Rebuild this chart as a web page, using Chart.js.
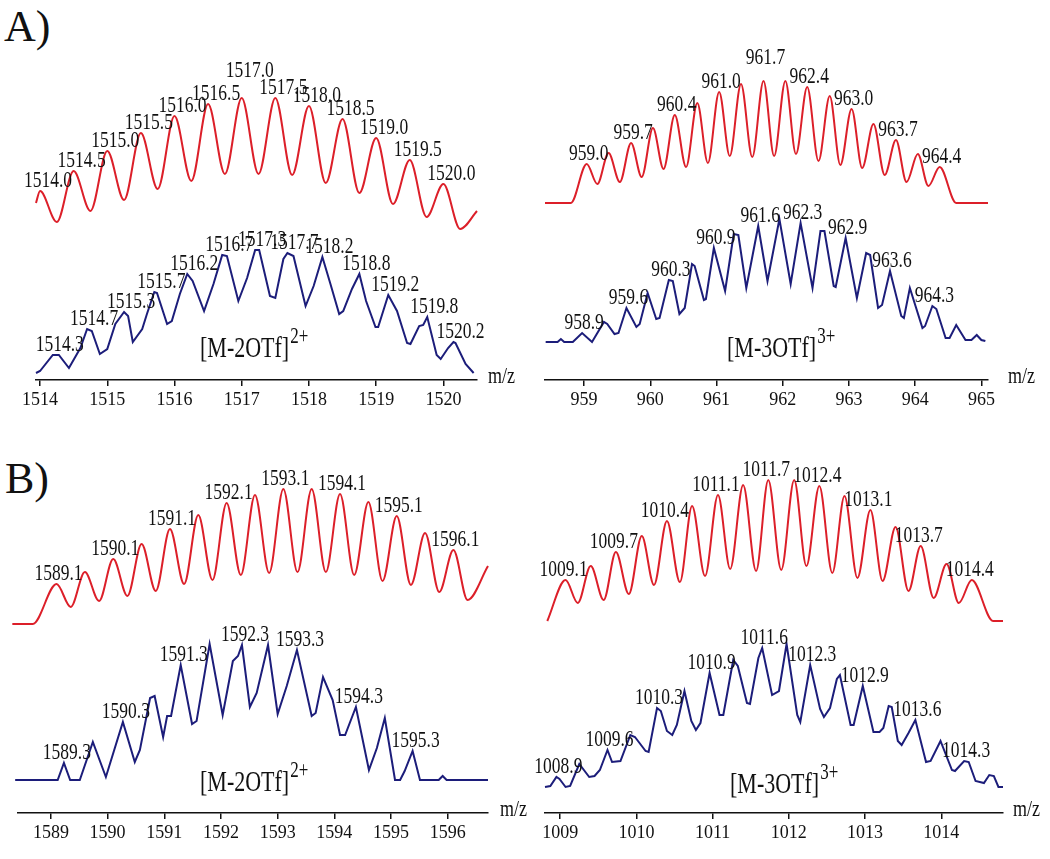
<!DOCTYPE html>
<html>
<head>
<meta charset="utf-8">
<script src="https://cdn.jsdelivr.net/npm/chart.js@4.4.1/dist/chart.umd.min.js"></script>
<style>
    html, body { margin: 0; padding: 0; background: #fff; }
    body { width: 1050px; height: 859px; position: relative; overflow: hidden;
           font-family: 'Liberation Serif', 'Times New Roman', serif; color: #111; }
    canvas { position: absolute; }
    .tag { position: absolute; font-size: 44px; line-height: 1; }
    .ion { position: absolute; font-size: 22px; line-height: 1; white-space: nowrap;
           transform: scaleY(1.3); transform-origin: 0 100%; }
    .ion sup { font-size: 17px; position: relative; top: -11px; vertical-align: baseline; margin-left: 1px; }
</style>
</head>
<body>
<div class="tag" style="left:4px;top:5px">A)</div>
<div class="tag" style="left:5px;top:457px">B)</div>

<canvas id="aLeft"  width="525" height="390" style="left:0;top:40px"></canvas>
<canvas id="aRight" width="525" height="390" style="left:525px;top:40px"></canvas>
<canvas id="bLeft"  width="535" height="414" style="left:0;top:445px"></canvas>
<canvas id="bRight" width="515" height="414" style="left:535px;top:445px"></canvas>

<div class="ion" style="left:200px;top:340px">[M-2OTf]<sup>2+</sup></div>
<div class="ion" style="left:727px;top:340px">[M-3OTf]<sup>3+</sup></div>
<div class="ion" style="left:200px;top:774px">[M-2OTf]<sup>2+</sup></div>
<div class="ion" style="left:730px;top:776px">[M-3OTf]<sup>3+</sup></div>

<script>
// ── Data (m/z, intensity above the axis) ─────────────────────────

// A) left : [M-2OTf]2+
const aLeftTicks    = [1514, 1515, 1516, 1517, 1518, 1519, 1520];
const aLeftCalcMz   = [1513.94, 1514.0, 1514.25, 1514.5, 1514.75, 1515.0, 1515.25, 1515.5, 1515.75,
                       1516.0, 1516.25, 1516.5, 1516.75, 1517.0, 1517.25, 1517.5, 1517.75, 1518.0,
                       1518.25, 1518.5, 1518.75, 1519.0, 1519.25, 1519.5, 1519.75, 1520.0, 1520.25, 1520.5];
const aLeftCalcInt  = [177, 189, 158, 209, 169, 229, 180, 247, 191, 264, 199, 276, 206, 282, 206,
                       282, 205, 274, 197, 261, 187, 242, 176, 220, 163, 196, 151, 169];
const aLeftCalcPeaks = [1514.0, 1514.5, 1515.0, 1515.5, 1516.0, 1516.5, 1517.0, 1517.5, 1518.0,
                        1518.5, 1519.0, 1519.5, 1520.0];
const aLeftExpMz    = [1513.94, 1514.00, 1514.19, 1514.28, 1514.43, 1514.60, 1514.70, 1514.77, 1514.89,
                       1515.00, 1515.12, 1515.25, 1515.31, 1515.38, 1515.52, 1515.59, 1515.70, 1515.74,
                       1515.89, 1515.96, 1516.08, 1516.19, 1516.27, 1516.44, 1516.58, 1516.71, 1516.78,
                       1516.95, 1517.08, 1517.20, 1517.26, 1517.42, 1517.50, 1517.62, 1517.68, 1517.77,
                       1517.95, 1518.07, 1518.20, 1518.32, 1518.45, 1518.51, 1518.64, 1518.75, 1518.85,
                       1518.99, 1519.03, 1519.18, 1519.31, 1519.46, 1519.51, 1519.64, 1519.70, 1519.76,
                       1519.90, 1519.96, 1520.07, 1520.15, 1520.18, 1520.33, 1520.45];
const aLeftExpInt   = [7, 9, 25, 25, 12, 32, 51, 49, 26, 31, 56, 68, 64, 38, 51, 66, 88, 87, 56, 59, 86,
                       106, 99, 69, 96, 125, 124, 79, 102, 130, 130, 84, 82, 121, 127, 124, 74, 94, 123,
                       96, 66, 69, 91, 106, 79, 53, 53, 85, 69, 37, 36, 54, 55, 63, 25, 21, 32, 38, 37, 16, 7];
const aLeftExpPeaks = [1514.3, 1514.7, 1515.3, 1515.7, 1516.2, 1516.7, 1517.3, 1517.7, 1518.2,
                       1518.8, 1519.2, 1519.8, 1520.2];

// A) right : [M-3OTf]3+
const aRightTicks   = [959, 960, 961, 962, 963, 964, 965];
const aRightCalcMz  = [958.41, 958.47, 958.80, 959.04, 959.20, 959.37, 959.54, 959.71, 959.87, 960.04,
                       960.20, 960.37, 960.54, 960.71, 960.87, 961.04, 961.20, 961.37, 961.54, 961.71,
                       961.87, 962.04, 962.20, 962.37, 962.54, 962.71, 962.87, 963.04, 963.20, 963.37,
                       963.54, 963.71, 963.87, 964.04, 964.20, 964.37, 964.62, 965.10];
const aRightCalcInt = [177, 177, 177, 216, 196, 227, 198, 237, 203, 252, 211, 265, 213, 277, 217, 288,
                       224, 296, 223, 299, 224, 299, 226, 293, 219, 284, 215, 271, 212, 256, 205, 240,
                       198, 226, 194, 213, 177, 177];
const aRightCalcPeaks = [959.0, 959.7, 960.4, 961.0, 961.7, 962.4, 963.0, 963.7, 964.4];
const aRightExpMz   = [958.42, 958.60, 958.65, 958.70, 958.83, 958.97, 959.12, 959.30, 959.35, 959.46,
                       959.52, 959.64, 959.79, 959.84, 959.96, 960.09, 960.14, 960.28, 960.34, 960.44,
                       960.52, 960.63, 960.67, 960.81, 960.84, 960.96, 961.13, 961.26, 961.33, 961.45,
                       961.63, 961.77, 961.95, 962.12, 962.27, 962.45, 962.57, 962.63, 962.77, 962.80,
                       962.95, 963.12, 963.26, 963.32, 963.44, 963.50, 963.62, 963.79, 963.83, 963.92,
                       964.11, 964.15, 964.26, 964.32, 964.46, 964.52, 964.62, 964.76, 964.85, 964.93,
                       965.00, 965.06];
const aRightExpInt  = [38, 38, 41, 38, 38, 47, 38, 58, 56, 46, 47, 72, 53, 56, 87, 61, 62, 100, 99, 66,
                       72, 116, 114, 80, 81, 132, 89, 146, 145, 92, 154, 99, 161, 96, 157, 92, 149, 149,
                       94, 93, 142, 82, 127, 125, 72, 75, 109, 64, 62, 92, 52, 54, 74, 71, 42, 42, 55,
                       40, 40, 45, 40, 39];
const aRightExpPeaks = [958.9, 959.6, 960.3, 960.9, 961.6, 962.3, 962.9, 963.6, 964.3];

// B) left : [M-2OTf]2+
const bLeftTicks    = [1589, 1590, 1591, 1592, 1593, 1594, 1595, 1596];
const bLeftCalcMz   = [1588.32, 1588.68, 1589.1, 1589.35, 1589.6, 1589.85, 1590.1, 1590.35, 1590.6,
                       1590.85, 1591.1, 1591.35, 1591.6, 1591.85, 1592.1, 1592.35, 1592.6, 1592.85,
                       1593.1, 1593.35, 1593.6, 1593.85, 1594.1, 1594.35, 1594.6, 1594.85, 1595.1,
                       1595.35, 1595.6, 1595.85, 1596.1, 1596.35, 1596.71];
const bLeftCalcInt  = [189, 189, 229, 206, 241, 212, 254, 217, 269, 222, 284, 229, 298, 233, 310, 238,
                       318, 240, 324, 241, 324, 241, 319, 238, 311, 232, 297, 228, 280, 221, 263, 213, 247];
const bLeftCalcPeaks = [1589.1, 1590.1, 1591.1, 1592.1, 1593.1, 1594.1, 1595.1, 1596.1];
const bLeftExpMz    = [1588.37, 1589.12, 1589.23, 1589.34, 1589.51, 1589.74, 1589.97, 1590.27, 1590.48,
                       1590.57, 1590.75, 1590.83, 1590.98, 1591.05, 1591.12, 1591.29, 1591.49, 1591.57,
                       1591.80, 1592.03, 1592.21, 1592.30, 1592.37, 1592.51, 1592.63, 1592.83, 1593.00,
                       1593.16, 1593.34, 1593.60, 1593.67, 1593.80, 1593.97, 1594.10, 1594.19, 1594.38,
                       1594.61, 1594.75, 1594.89, 1595.07, 1595.16, 1595.24, 1595.38, 1595.51, 1595.84,
                       1595.91, 1595.98, 1596.71];
const bLeftExpInt   = [33, 33, 50, 33, 33, 71, 36, 91, 51, 63, 115, 117, 76, 97, 97, 148, 89, 92, 169,
                       98, 152, 157, 168, 106, 120, 168, 99, 127, 163, 97, 100, 136, 113, 78, 78, 106,
                       43, 65, 95, 33, 33, 42, 62, 33, 33, 37, 33, 33];
const bLeftExpPeaks = [1589.3, 1590.3, 1591.3, 1592.3, 1593.3, 1594.3, 1595.3];

// B) right : [M-3OTf]3+
const bRightTicks   = [1009, 1010, 1011, 1012, 1013, 1014];
const bRightCalcMz  = [1008.83, 1009.07, 1009.23, 1009.40, 1009.57, 1009.73, 1009.90, 1010.07, 1010.23,
                       1010.40, 1010.57, 1010.73, 1010.90, 1011.07, 1011.23, 1011.40, 1011.57, 1011.73,
                       1011.90, 1012.07, 1012.23, 1012.40, 1012.57, 1012.73, 1012.90, 1013.07, 1013.23,
                       1013.40, 1013.57, 1013.73, 1013.90, 1014.07, 1014.23, 1014.40, 1014.68, 1014.81];
const bRightCalcInt = [192, 233, 210, 247, 213, 261, 219, 277, 228, 292, 231, 307, 237, 318, 244, 328,
                       242, 333, 243, 333, 247, 327, 240, 317, 235, 303, 232, 286, 222, 267, 215, 249,
                       210, 233, 192, 192];
const bRightCalcPeaks = [1009.1, 1009.7, 1010.4, 1011.1, 1011.7, 1012.4, 1013.1, 1013.7, 1014.4];
const bRightExpMz   = [1008.80, 1008.87, 1008.95, 1008.99, 1009.07, 1009.13, 1009.25, 1009.38, 1009.45,
                       1009.52, 1009.62, 1009.68, 1009.79, 1009.92, 1009.98, 1010.12, 1010.16, 1010.27,
                       1010.32, 1010.40, 1010.47, 1010.53, 1010.63, 1010.72, 1010.78, 1010.84, 1010.96,
                       1011.09, 1011.14, 1011.27, 1011.33, 1011.45, 1011.49, 1011.60, 1011.65, 1011.78,
                       1011.87, 1011.97, 1012.11, 1012.15, 1012.28, 1012.41, 1012.46, 1012.54, 1012.63,
                       1012.67, 1012.81, 1012.85, 1012.97, 1013.11, 1013.19, 1013.24, 1013.31, 1013.35,
                       1013.43, 1013.48, 1013.57, 1013.66, 1013.80, 1013.86, 1013.99, 1014.14, 1014.18,
                       1014.30, 1014.36, 1014.45, 1014.56, 1014.63, 1014.69, 1014.75, 1014.81];
const bRightExpInt  = [26, 27, 36, 34, 26, 27, 49, 36, 37, 43, 63, 51, 52, 78, 76, 62, 61, 105, 102, 82,
                       78, 88, 122, 92, 83, 90, 140, 98, 98, 153, 147, 110, 109, 155, 165, 118, 122, 169,
                       98, 91, 148, 104, 96, 105, 134, 138, 88, 88, 127, 81, 81, 85, 107, 106, 72, 68, 80,
                       93, 51, 52, 72, 43, 42, 52, 51, 32, 30, 38, 37, 26, 26];
const bRightExpPeaks = [1008.9, 1009.6, 1010.3, 1010.9, 1011.6, 1012.3, 1012.9, 1013.6, 1014.3];

(function () {
    'use strict';

    // ── Shared defaults ──────────────────────────────────────────
    const FONT_FAMILY = "'Liberation Serif', 'Times New Roman', serif";
    const INK         = '#111111';
    const CALC_RED    = '#dc1f29';
    const EXP_NAVY    = '#1c1d7a';
    const TALL        = 1.3;   // the printed figure has tall, narrow lettering

    Chart.defaults.font.family = FONT_FAMILY;
    Chart.defaults.color       = INK;

    const zip = (xs, ys) => xs.map((x, i) => ({ x, y: ys[i] }));

    function tallText(ctx, text, x, y) {
        ctx.save();
        ctx.translate(x, y);
        ctx.scale(1, TALL);
        ctx.fillText(text, 0, 0);
        ctx.restore();
    }

    // ── Peak labels + the m/z axis caption ───────────────────────
    const peakLabelPlugin = {
        id: 'peakLabels',
        afterDatasetsDraw(chart, args, opts) {
            const { ctx, chartArea, scales: { x, y } } = chart;
            ctx.save();
            ctx.fillStyle    = INK;
            ctx.font         = '17.5px ' + FONT_FAMILY;
            ctx.textAlign    = 'center';
            ctx.textBaseline = 'alphabetic';

            chart.data.datasets.forEach(ds => {
                (ds.peakLabels || []).forEach(mz => {
                    // tallest data point close to the labelled m/z
                    let top = null;
                    ds.data.forEach(p => {
                        if (Math.abs(p.x - mz) <= 0.121 && (!top || p.y > top.y)) top = p;
                    });
                    if (!top) return;
                    const text = mz.toFixed(1);
                    const lift = (opts.lift && opts.lift[text]) || 0;
                    tallText(ctx, text,
                        x.getPixelForValue(top.x) + (ds.labelDx || 0),
                        y.getPixelForValue(top.y) - 4 - lift);
                });
            });

            ctx.textAlign = 'left';
            ctx.font      = '18px ' + FONT_FAMILY;
            tallText(ctx, 'm/z', chartArea.right + opts.mzGap, chartArea.bottom + 3);
            ctx.restore();
        }
    };

    // ── One panel = calculated (red) over experimental (navy) ────
    function buildPanel(id, p) {
        const el = document.getElementById(id);
        if (!el) return;

        new Chart(el, {
            type: 'line',
            data: {
                datasets: [{
                    label: 'calculated',
                    data: zip(p.calcMz, p.calcInt),
                    peakLabels: p.calcPeaks,
                    labelDx: p.calcDx,
                    borderColor: CALC_RED,
                    borderWidth: 2,
                    pointRadius: 0,
                    cubicInterpolationMode: 'monotone',
                    clip: false,
                    fill: false
                }, {
                    label: 'experimental',
                    data: zip(p.expMz, p.expInt),
                    peakLabels: p.expPeaks,
                    labelDx: p.expDx,
                    borderColor: EXP_NAVY,
                    borderWidth: 2,
                    pointRadius: 0,
                    tension: 0,
                    clip: false,
                    fill: false
                }]
            },
            options: {
                responsive: false,
                animation: false,
                parsing: false,
                layout: { padding: p.padding },
                plugins: {
                    legend:  { display: false },
                    tooltip: { enabled: false },
                    peakLabels: { lift: p.lift, mzGap: p.mzGap }
                },
                scales: {
                    x: {
                        type: 'linear',
                        min: p.xMin,
                        max: p.xMax,
                        afterBuildTicks: s => { s.ticks = p.ticks.map(v => ({ value: v })); },
                        afterFit: s => { s.height = p.axisH; },
                        border: { display: true, color: INK, width: 1.6 },
                        grid: {
                            drawOnChartArea: false,
                            drawTicks: true,
                            tickLength: 6,
                            color: INK,
                            lineWidth: 1.5
                        },
                        ticks: {
                            color: INK,
                            padding: 3,
                            maxRotation: 0,
                            autoSkip: false,
                            font: { size: 18 },
                            callback: v => String(v)
                        }
                    },
                    y: { display: false, min: 0, max: p.yMax }
                }
            },
            plugins: [peakLabelPlugin]
        });
    }

    buildPanel('aLeft', {
        calcMz: aLeftCalcMz, calcInt: aLeftCalcInt, calcPeaks: aLeftCalcPeaks, calcDx: 8,
        expMz: aLeftExpMz, expInt: aLeftExpInt, expPeaks: aLeftExpPeaks, expDx: 7,
        ticks: aLeftTicks, xMin: 1513.94, xMax: 1520.5, yMax: 320,
        padding: { left: 36, right: 48, top: 20, bottom: 0 }, axisH: 50,
        lift: { '1517.0': 17 }, mzGap: 11
    });

    buildPanel('aRight', {
        calcMz: aRightCalcMz, calcInt: aRightCalcInt, calcPeaks: aRightCalcPeaks, calcDx: 2,
        expMz: aRightExpMz, expInt: aRightExpInt, expPeaks: aRightExpPeaks, expDx: 2,
        ticks: aRightTicks, xMin: 958.41, xMax: 965.1, yMax: 320,
        padding: { left: 20, right: 62, top: 20, bottom: 0 }, axisH: 50,
        lift: { '961.7': 13 }, mzGap: 20
    });

    buildPanel('bLeft', {
        calcMz: bLeftCalcMz, calcInt: bLeftCalcInt, calcPeaks: bLeftCalcPeaks, calcDx: 2,
        expMz: bLeftExpMz, expInt: bLeftExpInt, expPeaks: bLeftExpPeaks, expDx: 3,
        ticks: bLeftTicks, xMin: 1588.42, xMax: 1596.71, yMax: 358,
        padding: { left: 18, right: 47, top: 10, bottom: 0 }, axisH: 46,
        lift: {}, mzGap: 12
    });

    buildPanel('bRight', {
        calcMz: bRightCalcMz, calcInt: bRightCalcInt, calcPeaks: bRightCalcPeaks, calcDx: -2,
        expMz: bRightExpMz, expInt: bRightExpInt, expPeaks: bRightExpPeaks, expDx: 2,
        ticks: bRightTicks, xMin: 1008.80, xMax: 1014.81, yMax: 358,
        padding: { left: 10, right: 47, top: 10, bottom: 0 }, axisH: 46,
        lift: {}, mzGap: 10
    });

})();
</script>
</body>
</html>
